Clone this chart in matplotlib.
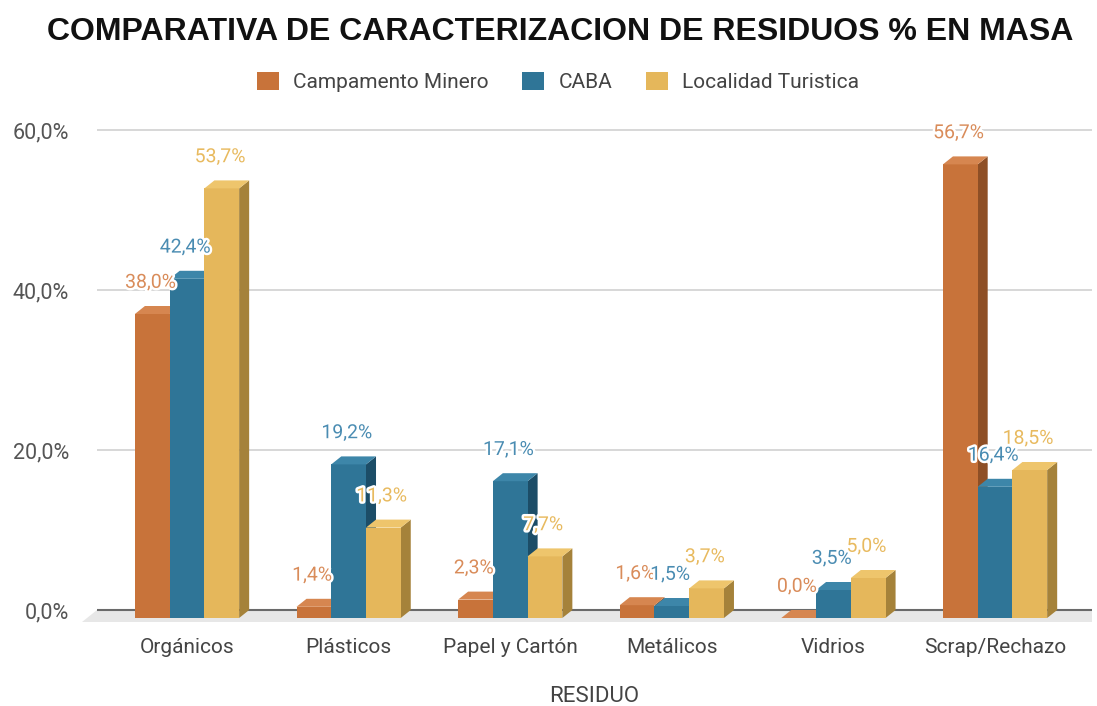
import numpy as np
import matplotlib
matplotlib.use("Agg")
import matplotlib.pyplot as plt
import matplotlib.patheffects as pe
from matplotlib.patches import Polygon, Patch

categories = ["Orgánicos", "Plásticos", "Papel y Cartón", "Metálicos", "Vidrios", "Scrap/Rechazo"]
series_names = ["Campamento Minero", "CABA", "Localidad Turistica"]
campamento = [38.0, 1.4, 2.3, 1.6, 0.0, 56.7]
caba = [42.4, 19.2, 17.1, 1.5, 3.5, 16.4]
turistica = [53.7, 11.3, 7.7, 3.7, 5.0, 18.5]
y_ticks = [0, 20, 40, 60]
y_tick_labels = ["0,0%", "20,0%", "40,0%", "60,0%"]

# front / side / top / label colours per series
front = ["#c8733a", "#2f7597", "#e5b75b"]
side = ["#8e4f26", "#1c4d67", "#a5823a"]
top = ["#d68650", "#3d86a9", "#eec56c"]
label_col = ["#d98c5a", "#4a8cb2", "#e8ba5f"]

plt.rcParams["font.family"] = ["Roboto", "DejaVu Sans"]

fig = plt.figure(figsize=(10.97, 7.06), dpi=100)
ax = fig.add_axes([97 / 1097, 76 / 706, 995 / 1097, 508 / 706])
ax.set_xlim(-0.557, 5.6)
ax.set_ylim(-2.5, 61)

w = 0.215    # bar width
dx = 0.062   # depth offset in x
dy = 1.0     # depth offset in y

# floor and grid
ax.add_patch(Polygon([(-0.65, -1.5), (5.6, -1.5), (5.6, 0), (-0.557, 0)],
                     closed=True, facecolor="#e7e7e7", edgecolor="none",
                     zorder=1, clip_on=False))
for t in y_ticks[1:]:
    ax.axhline(t, color="#d4d4d4", lw=1.3, zorder=0)
ax.axhline(0, color="#6a6a6a", lw=1.5, zorder=1.5)

x = np.arange(len(categories))
for i, vals in enumerate([campamento, caba, turistica]):
    for j, v in enumerate(vals):
        x0 = x[j] + (i - 1) * w - w / 2
        z = 3 + j * 0.1 + i * 0.01
        ax.bar(x0, v, width=w, bottom=-dy, align="edge", color=front[i],
               edgecolor="none", zorder=z)
        ax.add_patch(Polygon([(x0, v - dy), (x0 + w, v - dy), (x0 + w + dx, v), (x0 + dx, v)],
                             closed=True, facecolor=top[i], edgecolor="none", zorder=z))
        ax.add_patch(Polygon([(x0 + w, -dy), (x0 + w + dx, 0), (x0 + w + dx, v), (x0 + w, v - dy)],
                             closed=True, facecolor=side[i], edgecolor="none", zorder=z - 0.005))
        ax.text(x0 + w / 2 - 0.01, v + 2.9, f"{v:.1f}".replace(".", ",") + "%",
                ha="center", va="center", fontsize=14, color=label_col[i], zorder=20,
                path_effects=[pe.withStroke(linewidth=3.5, foreground="white")])

ax.set_xticks(x)
ax.set_xticklabels(categories, fontsize=15, color="#444444")
ax.set_yticks(y_ticks)
ax.set_yticklabels(y_tick_labels, fontsize=15.5, color="#555555")
ax.tick_params(axis="both", length=0)
ax.tick_params(axis="x", pad=6)
ax.tick_params(axis="y", pad=20)
for s in ax.spines.values():
    s.set_visible(False)

fig.text(560 / 1097, 1 - 32 / 706, "COMPARATIVA DE CARACTERIZACION DE RESIDUOS % EN MASA",
         ha="center", va="center", fontsize=23, fontweight="bold",
         family="Liberation Sans", color="#111111")
fig.text(594 / 1097, 1 - 696 / 706, "RESIDUO", ha="center", va="center",
         fontsize=16, color="#444444")

handles = [Patch(facecolor=c, edgecolor="none") for c in front]
fig.legend(handles, series_names, loc="center", bbox_to_anchor=(558 / 1097, 1 - 82 / 706),
           ncol=3, frameon=False, fontsize=15, handlelength=1.05, handleheight=1.0,
           handletextpad=0.7, columnspacing=1.6, labelcolor="#444444")

fig.savefig("out.png", dpi=100, facecolor="white")
